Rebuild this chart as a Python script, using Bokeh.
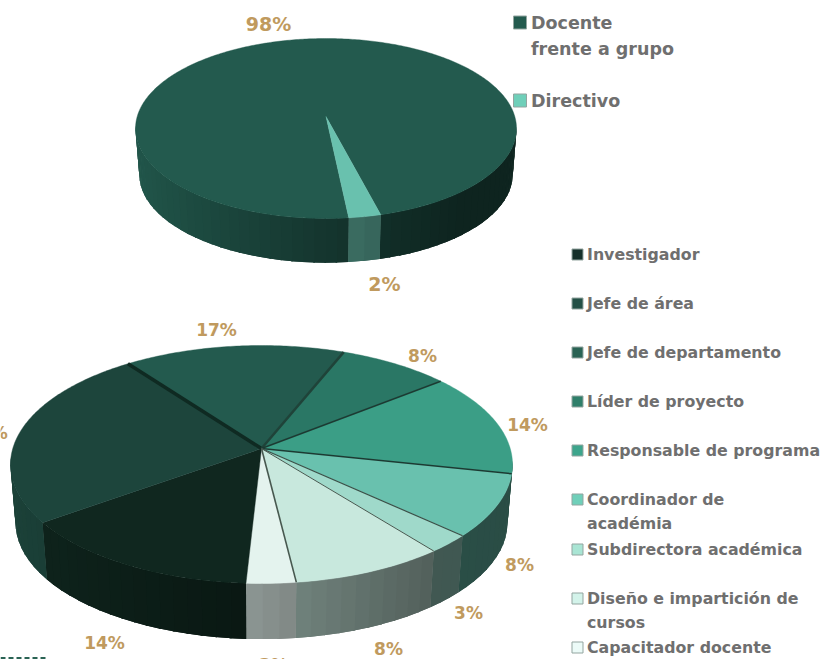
import math
from bokeh.plotting import figure
from bokeh.models import Range1d
from bokeh.core.properties import value
from bokeh.embed import file_html
from bokeh.resources import INLINE

# ---- data ----
roles_top = ["Docente frente a grupo", "Directivo"]
share_top = [97.6, 2.4]
labels_top = ["98%", "2%"]

roles_bottom = ["Jefe de departamento", "Líder de proyecto", "Responsable de programa",
                "Coordinador de académia", "Subdirectora académica",
                "Diseño e impartición de cursos", "Capacitador docente",
                "Investigador", "Jefe de área"]
share_bottom = [16.2, 8.2, 14.1, 8.5, 2.5, 8.7, 2.8, 14.2, 24.8]
labels_bottom = ["17%", "8%", "14%", "8%", "3%", "8%", "3%", "14%", "25%"]

legend_top = [["Docente", "frente a grupo"], ["Directivo"]]
legend_bottom = [["Investigador"], ["Jefe de área"], ["Jefe de departamento"],
                 ["Líder de proyecto"], ["Responsable de programa"],
                 ["Coordinador  de", "académia"], ["Subdirectora académica"],
                 ["Diseño e impartición de", "cursos"], ["Capacitador docente"]]

# ---- styles ----
colors_top = ["#235a4e", "#69c1ae"]
colors_bottom = ["#235a4e", "#2a7765", "#3b9e86", "#69c1ae", "#9fd9ca",
                 "#c8e8dd", "#e4f3ee", "#10271f", "#1d453c"]
sep_bottom = [3.5, 2.5, 1.5, 1.5, 1.2, 1.0, 1.6, 0, 0]
sep_colors = ["#0f2a22", "#1f4339", "#1c3a32", "#1c3a32", "#3a4f47",
              "#47584f", "#47584f", "#47584f", "#47584f"]
swatch_top = ["#235a4e", "#6fcfb9"]
swatch_bottom = ["#15302a", "#235046", "#2a6354", "#2f7f6a", "#3da58c",
                 "#6fcfb9", "#a9e5d4", "#d3f3ea", "#ecfbf8"]
GOLD = "#c09a5e"
GREY = "#6f6f6f"
FONT = "DejaVu Sans"

p = figure(width=823, height=659, output_backend="svg", toolbar_location=None,
           x_range=Range1d(0, 823), y_range=Range1d(659, 0), min_border=0,
           background_fill_color="white", border_fill_color="white")
p.axis.visible = False
p.grid.visible = False
p.outline_line_color = None


def shade(hex_color, f):
    r, g, b = (int(hex_color[i:i + 2], 16) for i in (1, 3, 5))
    return "#%02x%02x%02x" % (int(r * f), int(g * f), int(b * f))


def side_factor(xn):
    pts = [(-1.0, 0.95), (-0.6, 0.80), (0.0, 0.60), (0.7, 0.41), (1.0, 0.40)]
    for (x0, f0), (x1, f1) in zip(pts, pts[1:]):
        if xn <= x1:
            return f0 + (f1 - f0) * (xn - x0) / (x1 - x0)
    return pts[-1][1]


def pie3d(shares, colors, start, cx, cy, rx, ry, a, drop, shrink, seps, sep_cols):
    def rim(deg):
        t = math.radians(deg)
        u, v = math.sin(t), -math.cos(t)
        d = 1 + a * v
        return u * math.sqrt(1 - a * a) / d, (v + a) / d

    def top(deg):
        xn, yn = rim(deg)
        return cx + rx * xn, cy + ry * yn

    def bot(deg):
        xn, yn = rim(deg)
        return cx + rx * shrink * xn, cy + drop + ry * shrink * yn

    total = sum(shares)
    apex = (cx, cy + ry * a)
    angs = [start]
    for s in shares:
        angs.append(angs[-1] + 360 * s / total)

    sx, sy, sc, tx, ty, tc, lines = [], [], [], [], [], [], []
    for i, c in enumerate(colors):
        a0, a1 = angs[i], angs[i + 1]
        n = max(2, int((a1 - a0) / 3))
        steps = [a0 + (a1 - a0) * k / n for k in range(n + 1)]
        for b0, b1 in zip(steps, steps[1:]):
            if rim((b0 + b1) / 2)[1] < -0.05:
                continue
            b2 = b1 if b1 == steps[-1] else b1 + 0.4
            p0, p1, q1, q0 = top(b0), top(b2), bot(b2), bot(b0)
            sx.append([p0[0], p1[0], q1[0], q0[0]])
            sy.append([p0[1], p1[1], q1[1], q0[1]])
            sc.append(shade(c, side_factor(rim((b0 + b1) / 2)[0])))
        fine = [a0 + (a1 - a0) * k / (4 * n) for k in range(4 * n + 1)]
        pts = [top(b) for b in fine]
        tx.append([apex[0]] + [q[0] for q in pts])
        ty.append([apex[1]] + [q[1] for q in pts])
        tc.append(c)
        if seps and seps[i] > 0:
            e = top(a0)
            lines.append(([apex[0], e[0]], [apex[1], e[1]], seps[i], sep_cols[i]))
    # drawn twice so that sub-pixel bands at the silhouette do not let white through
    p.patches(sx, sy, fill_color=sc, line_color=None)
    p.patches(sx, sy, fill_color=sc, line_color=None)
    p.patches(tx, ty, fill_color=tc, line_color=tc, line_width=0.4)
    for x, y, w, col in lines:
        p.line(x, y, line_color=col, line_width=w)


pie3d(share_top, colors_top, 174.0, 325.5, 128, 190.5, 90, -0.133, 46, 0.98, None, None)
pie3d(share_bottom, colors_bottom, -36.5, 261, 464, 251, 119, -0.134, 58, 0.98,
      sep_bottom, sep_colors)

# value labels
p.text([268, 384], [23, 283.5], text=labels_top, text_font=value(FONT), text_font_style="bold",
       text_font_size="19px", text_color=GOLD, text_align="center", text_baseline="middle")
bx = [216, 422, 527, 519, 468, 388, 273, 104, -13]
by = [329, 355, 424, 564, 612, 648, 664, 642, 432]
p.text(bx, by, text=labels_bottom, text_font=value(FONT), text_font_style="bold",
       text_font_size="17px", text_color=GOLD, text_align="center", text_baseline="middle")

# legends
def legend(entries, colors, sx, size, tx, ys, line_h, font_size):
    xs, yl, txt = [], [], []
    for e, y in zip(entries, ys):
        for j, t in enumerate(e):
            xs.append(tx)
            yl.append(y + j * line_h)
            txt.append(t)
    p.rect([sx] * len(ys), ys, width=size, height=size, fill_color=colors,
           line_color="#93a5a0", line_width=1)
    p.text(xs, yl, text=txt, text_font=value(FONT), text_font_style="bold",
           text_font_size=font_size, text_color=GREY, text_align="left", text_baseline="middle")


legend(legend_top, swatch_top, 519.5, 13, 530.5, [22, 100], 26, "17.5px")
legend(legend_bottom, swatch_bottom, 577, 11, 586.5,
       [254, 303, 352, 401, 450, 499, 549, 598, 647], 24, "15.8px")

p.line([0, 48], [657.5, 657.5], line_color="#2a6354", line_width=2, line_dash="5 3")

open("out.html", "w").write(file_html(p, INLINE))
